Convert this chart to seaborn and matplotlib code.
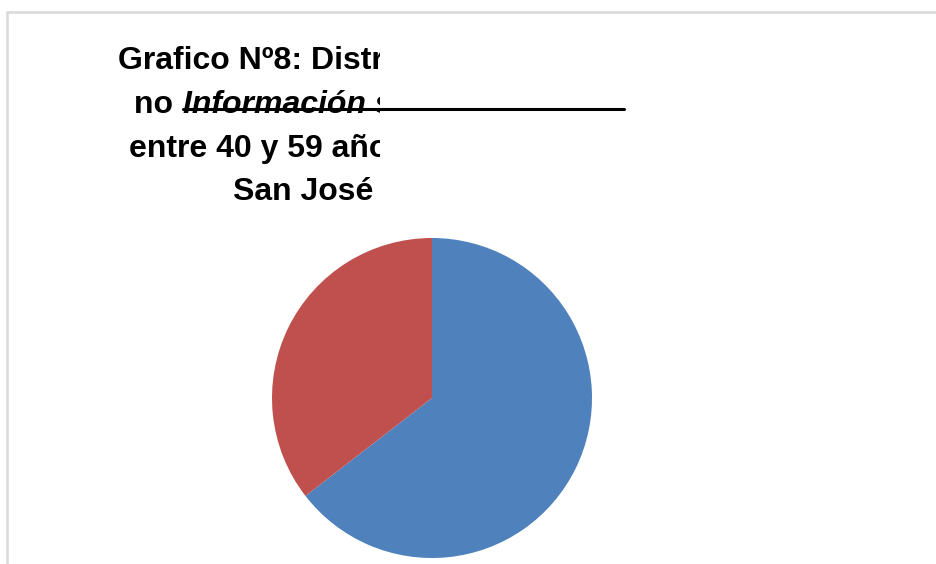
import matplotlib
matplotlib.use("Agg")
import matplotlib.pyplot as plt
from matplotlib.patches import Rectangle
from matplotlib.lines import Line2D
import seaborn as sns

# datos del grafico
categorias = ["Sí", "No"]
valores = [20, 11]
colores = ["#4F81BD", "#C0504D"]

titulo_l1 = "Grafico Nº8: Distribución de mujeres que tienen"
titulo_l2a = "no "
titulo_l2b = "Información sobre el Papanicolaou"
titulo_l3 = "entre 40 y 59 años, Consultorio"
titulo_l4 = "San José"

sns.set_theme(style="white")
plt.rcParams["font.family"] = ["Liberation Sans", "DejaVu Sans"]

W, H = 937, 564
fig = plt.figure(figsize=(W / 100, H / 100), dpi=100)
fig.patch.set_facecolor("white")


def fx(x):
    return x / W


def fy(y):
    return 1 - y / H


# borde del area del grafico
fig.add_artist(Line2D([fx(7), fx(7)], [fy(12), fy(H)], transform=fig.transFigure,
                      color="#d9d9d9", lw=1.8))
fig.add_artist(Line2D([fx(7), fx(W)], [fy(12), fy(12)], transform=fig.transFigure,
                      color="#d9d9d9", lw=1.8))

# titulo recortado
clip = Rectangle((0, 0), fx(380), 1, transform=fig.transFigure, visible=False)
fig.add_artist(clip)
fs = 23
lineas = [
    (titulo_l1, 118, 69),
    (titulo_l3, 129, 157),
    (titulo_l4, 233, 200),
]
for txt, x, y in lineas:
    t = fig.text(fx(x), fy(y), txt, fontsize=fs, fontweight="bold", va="baseline",
                 ha="left", color="black")
    t.set_clip_path(clip)
t = fig.text(fx(134), fy(113), titulo_l2a, fontsize=fs, fontweight="bold",
             va="baseline", ha="left", color="black")
t.set_clip_path(clip)
t = fig.text(fx(183), fy(113), titulo_l2b, fontsize=fs, fontweight="bold",
             style="italic", va="baseline", ha="left", color="black")
t.set_clip_path(clip)

# linea negra
fig.add_artist(Line2D([fx(183), fx(624)], [fy(109), fy(109)], transform=fig.transFigure,
                      color="black", lw=2.2))

# torta
r = 160
cx, cy = 432, 398
ax = fig.add_axes([fx(cx - r), 1 - (cy + r) / H, 2 * r / W, 2 * r / H])
ax.pie(valores, colors=colores, startangle=90, counterclock=False, radius=1,
       wedgeprops=dict(linewidth=0))
ax.set_xlim(-1, 1)
ax.set_ylim(-1, 1)
ax.set_axis_off()

fig.savefig("out.png", dpi=100, facecolor="white")
